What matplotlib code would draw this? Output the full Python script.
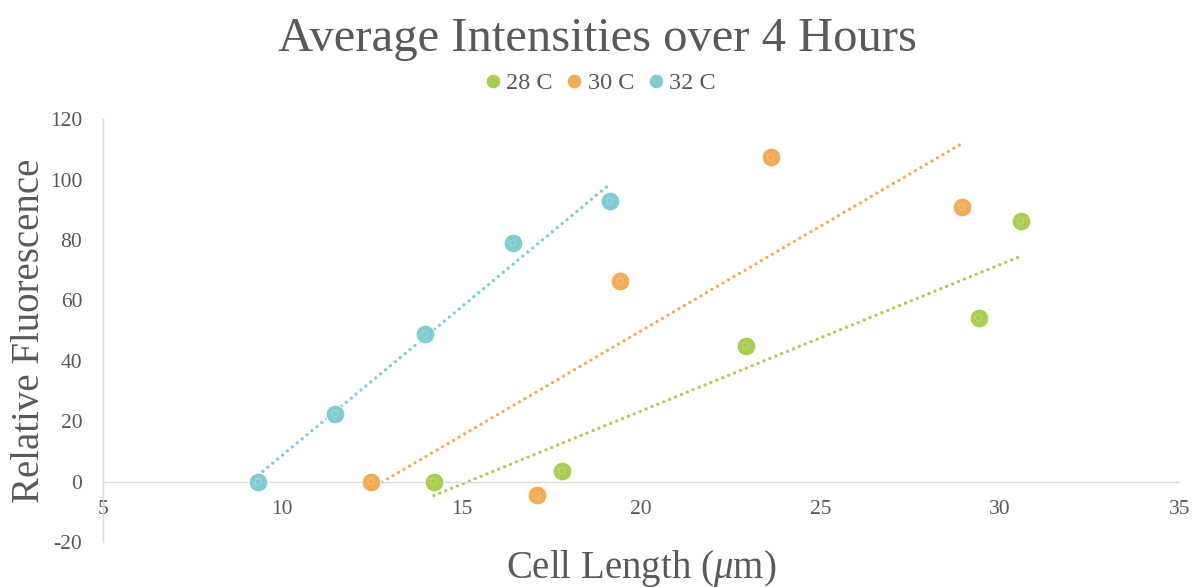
import numpy as np
import matplotlib
matplotlib.use("Agg")
import matplotlib.pyplot as plt
from matplotlib.lines import Line2D

series_names = ["28 C", "30 C", "32 C"]
x_28 = [14.22, 17.79, 22.91, 29.40, 30.57]
y_28 = [0.0, 3.6, 45.0, 54.2, 86.3]
x_30 = [12.47, 17.09, 19.40, 23.61, 28.93]
y_30 = [0.0, -4.6, 66.4, 107.4, 90.9]
x_32 = [9.32, 11.46, 13.97, 16.42, 19.12]
y_32 = [0.0, 22.5, 48.9, 79.0, 92.9]
colors = ["#A9CE52", "#F4AB55", "#7FCDD3"]

x_ticks = [5, 10, 15, 20, 25, 30, 35]
y_ticks = [-20, 0, 20, 40, 60, 80, 100, 120]

plt.rcParams['font.family'] = ['Liberation Serif', 'DejaVu Serif']
plt.rcParams['axes.unicode_minus'] = False
plt.rcParams['mathtext.fontset'] = 'custom'
plt.rcParams['mathtext.rm'] = 'Liberation Serif'
plt.rcParams['mathtext.it'] = 'Liberation Serif:italic'
txt = "#595959"

fig = plt.figure(figsize=(11.95, 5.87), dpi=100)
ax = fig.add_axes([0.0862, 0.0767, 0.987 - 0.0862, 0.797 - 0.0767])

data = [(x_28, y_28), (x_30, y_30), (x_32, y_32)]
handles = []
for (xs, ys), c, name in zip(data, colors, series_names):
    xs = np.array(xs); ys = np.array(ys)
    m, b = np.polyfit(xs, ys, 1)
    xl = np.array([xs.min(), xs.max()])
    ax.plot(xl, m * xl + b, color=c, lw=2.4, linestyle=(0, (0.01, 1.9)),
            dash_capstyle='round', zorder=2)
    ax.scatter(xs, ys, s=185, color=c, edgecolors='white', linewidths=0.8, zorder=3)
    ax.scatter(xs, ys, s=22, facecolors='none', edgecolors='white', linewidths=0.6,
               alpha=0.3, zorder=4)
    handles.append(Line2D([], [], marker='o', linestyle='none', markersize=10.5,
                          markerfacecolor=c, markeredgecolor='white', markeredgewidth=0.6,
                          label=name))

ax.set_xlim(5, 35)
ax.set_ylim(-20, 120)
ax.set_xticks(x_ticks)
ax.set_yticks(y_ticks)
ax.spines['top'].set_visible(False)
ax.spines['right'].set_visible(False)
ax.spines['bottom'].set_position(('data', 0))
ax.spines['bottom'].set_color('#D9D9D9')
ax.spines['left'].set_color('#D9D9D9')
ax.spines['bottom'].set_linewidth(1.0)
ax.spines['left'].set_linewidth(1.0)
ax.tick_params(axis='x', length=0, pad=13, labelsize=15.5, labelcolor=txt)
ax.tick_params(axis='y', length=0, pad=15, labelsize=15.5, labelcolor=txt)

ax.set_xlabel("Cell Length ($\\mathit{\\mu}$m)", fontsize=28, color=txt)
ax.xaxis.set_label_coords(0.5, -0.015)
ax.xaxis.label.set_va('top')
ax.set_ylabel("Relative Fluorescence", fontsize=28, color=txt)
ax.yaxis.set_label_coords(-0.051, 0.5)

fig.text(0.5, 0.934, "Average Intensities over 4 Hours", ha='center', va='center',
         fontsize=35, color=txt)
fig.legend(handles=handles, loc='center', bbox_to_anchor=(0.5, 0.858), ncol=3,
           frameon=False, fontsize=17.5, labelcolor=txt, handletextpad=0.0,
           columnspacing=0.35, handlelength=1.1)

fig.savefig("out.png", dpi=100)
